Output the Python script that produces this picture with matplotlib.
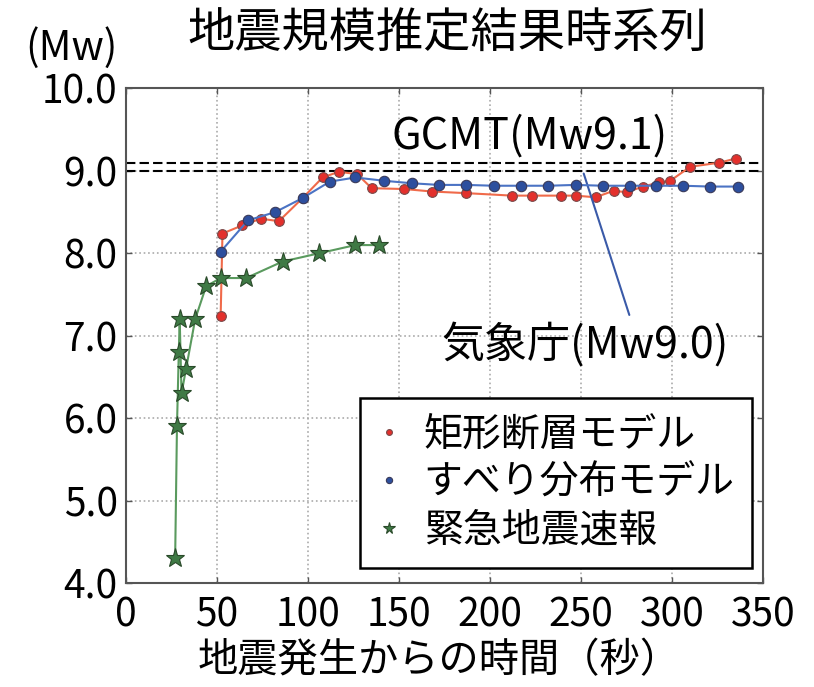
import matplotlib
matplotlib.use("Agg")
from matplotlib import pyplot as plt

plt.rcParams['font.family'] = ['Noto Sans CJK JP', 'DejaVu Sans']

# 矩形断層モデル
rect_t = [52, 53, 64, 74, 84, 97, 108, 117, 127, 135, 153, 168, 187, 212, 223,
          239, 247, 258, 268, 275, 284, 293, 299, 310, 326, 335]
rect_mw = [7.24, 8.24, 8.34, 8.42, 8.39, 8.67, 8.92, 8.99, 8.96, 8.79, 8.78, 8.75,
           8.73, 8.70, 8.70, 8.70, 8.70, 8.68, 8.76, 8.74, 8.81, 8.86, 8.88, 9.05,
           9.10, 9.15]

# すべり分布モデル
slip_t = [52, 67, 82, 97, 112, 126, 142, 157, 172, 187, 202, 217, 232, 247, 262,
          277, 291, 306, 321, 336]
slip_mw = [8.02, 8.40, 8.50, 8.67, 8.87, 8.92, 8.88, 8.85, 8.83, 8.83, 8.82, 8.82,
           8.82, 8.83, 8.82, 8.82, 8.82, 8.82, 8.81, 8.81]

# 緊急地震速報
eew_t = [27, 28, 29, 29.5, 30.5, 33, 38, 44, 52, 66, 86, 106, 126, 139]
eew_mw = [4.3, 5.9, 6.8, 7.2, 6.3, 6.6, 7.2, 7.6, 7.7, 7.7, 7.9, 8.0, 8.1, 8.1]

gcmt_mw = 9.1
jma_mw = 9.0

xticks = [0, 50, 100, 150, 200, 250, 300, 350]
yticks = [4.0, 5.0, 6.0, 7.0, 8.0, 9.0, 10.0]

fig = plt.figure(figsize=(8.14, 6.87), dpi=100)
ax = fig.add_axes([0.1548, 0.1514, 0.7826, 0.7198])

ax.axhline(gcmt_mw, color='black', ls=(0, (4.5, 2)), lw=1.5, zorder=2)
ax.axhline(jma_mw, color='black', ls=(0, (4.5, 2)), lw=1.5, zorder=2)

ax.plot(rect_t, rect_mw, color='#f06a4a', lw=1.5, marker='o', ms=7,
        mfc='#e3302c', mec='#7a4a4a', mew=0.8, label='矩形断層モデル', zorder=3)
ax.plot(slip_t, slip_mw, color='#4b73c4', lw=1.5, marker='o', ms=7.5,
        mfc='#2d4f9e', mec='#3a3a5a', mew=0.8, label='すべり分布モデル', zorder=4)
ax.plot(eew_t, eew_mw, color='#5a9a5e', lw=1.5, marker='*', ms=14,
        mfc='#3f7a45', mec='#2a4a2a', mew=0.8, label='緊急地震速報', zorder=5)

# leader line for the JMA value
ax.annotate('', xy=(251, jma_mw), xytext=(277, 7.22),
            arrowprops=dict(arrowstyle='-', color='#3a5aa8', lw=1.5))
ax.text(222, 9.42, 'GCMT(Mw9.1)', fontsize=31, ha='center', va='center')
ax.text(252, 6.89, '気象庁(Mw9.0)', fontsize=31, ha='center', va='center')

ax.set_xlim(0, 350)
ax.set_ylim(4.0, 10.0)
ax.set_xticks(xticks)
ax.set_xticklabels([str(v) for v in xticks])
ax.set_yticks(yticks)
ax.set_yticklabels(['%.1f' % v for v in yticks])
ax.tick_params(direction='in', top=True, right=True, length=4, width=1,
               labelsize=28, pad=6, color='#555555')
ax.tick_params(axis='x', pad=9)
ax.grid(True, ls=':', color='#aaaaaa', lw=1.2)
for s in ax.spines.values():
    s.set_color('#555555')
    s.set_linewidth(1.5)

leg = ax.legend(loc='lower right', bbox_to_anchor=(0.983, 0.03), fontsize=28,
                markerscale=0.6, handlelength=0.6, handletextpad=0.6,
                labelspacing=0.2, borderpad=0.45, borderaxespad=0,
                fancybox=False, framealpha=1, edgecolor='black')
leg.get_frame().set_linewidth(1.8)
for line in leg.get_lines():
    line.set_linestyle('none')

fig.text(0.549, 0.949, '地震規模推定結果時系列', fontsize=34, ha='center', va='center')
fig.text(0.088, 0.93, '(Mw)', fontsize=29, ha='center', va='center')
fig.text(0.54, 0.038, '地震発生からの時間（秒）', fontsize=29, ha='center', va='center')

plt.savefig('out.png', dpi=100)
plt.close()
